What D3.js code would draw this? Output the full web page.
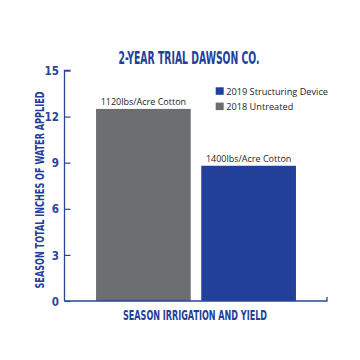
<!DOCTYPE html>
<html><head><meta charset="utf-8">
<script src="https://cdn.jsdelivr.net/npm/d3@7"></script>
<style>body{margin:0;background:#fff;}</style>
</head><body>
<svg id="c" width="360" height="360"></svg>
<script>
const categories = ["2018 Untreated", "2019 Structuring Device"];
const values = [12.5, 8.8];
const barLabels = ["1120lbs/Acre Cotton", "1400lbs/Acre Cotton"];
const legendItems = ["2019 Structuring Device", "2018 Untreated"];
const yTicks = [0, 3, 6, 9, 12, 15];
const title = "2-YEAR TRIAL DAWSON CO.";
const yTitle = "SEASON TOTAL INCHES OF WATER APPLIED";
const xTitle = "SEASON IRRIGATION AND YIELD";

const BLUE = "#22409a", GRAY = "#6d6e71", AXIS = "#2b4597";
const COND = "'Liberation Sans Narrow','DejaVu Sans Condensed',sans-serif";
const colors = {"2018 Untreated": GRAY, "2019 Structuring Device": BLUE};

const svg = d3.select("#c");
const x = d3.scaleBand().domain(categories).range([65, 327]).paddingInner(0.1).paddingOuter(0.295);
const y = d3.scaleLinear().domain([0, 15]).range([301, 70.5]);

// bars
svg.selectAll("rect.bar").data(categories).join("rect")
  .attr("x", d => x(d)).attr("width", x.bandwidth())
  .attr("y", (d,i) => y(values[i])).attr("height", (d,i) => y(0) - y(values[i]))
  .attr("fill", d => colors[d]);

// bar labels
svg.selectAll("text.bl").data(categories).join("text")
  .attr("x", d => x(d) + x.bandwidth()/2)
  .attr("y", (d,i) => y(values[i]) - 4)
  .attr("text-anchor", "middle")
  .attr("font-family", "'Open Sans',sans-serif").attr("font-size", 9)
  .attr("fill", "#231f20")
  .text((d,i) => barLabels[i]);

// y axis
const yAxis = d3.axisRight(y).tickValues(yTicks).tickSize(6).tickPadding(0);
const gy = svg.append("g").attr("transform", "translate(64.5,0)").call(yAxis);
gy.select(".domain").attr("stroke", AXIS).attr("stroke-width", 1.3).attr("d", `M6,${y(15)}H0V${y(0)}`);
gy.selectAll(".tick line").attr("stroke", AXIS).attr("stroke-width", 1.2);
gy.selectAll(".tick text").attr("x", -5.5).attr("dy", "0.36em").attr("text-anchor", "end")
  .attr("font-family", COND).attr("font-weight", "bold").attr("font-size", 11.5).attr("fill", AXIS);

// x axis line
const gx = svg.append("g").attr("transform", `translate(0,${y(0)})`)
  .call(d3.axisBottom(x).tickSize(0).tickFormat(""));
gx.select(".domain").attr("stroke", AXIS).attr("stroke-width", 1.3).attr("d", "M64.5,0H327V-4");

// title
svg.append("text").attr("x", 189).attr("y", 64).attr("text-anchor", "middle")
  .attr("font-family", COND).attr("font-weight", "bold").attr("font-size", 17.5)
  .attr("fill", BLUE).attr("textLength", 141).attr("lengthAdjust", "spacingAndGlyphs").text(title);

// y title
svg.append("text").attr("transform", "translate(44,190) rotate(-90)").attr("text-anchor", "middle")
  .attr("font-family", COND).attr("font-weight", "bold").attr("font-size", 12.5)
  .attr("fill", BLUE).attr("textLength", 197).attr("lengthAdjust", "spacingAndGlyphs").text(yTitle);

// x title
svg.append("text").attr("x", 195).attr("y", 319.5).attr("text-anchor", "middle")
  .attr("font-family", COND).attr("font-weight", "bold").attr("font-size", 14)
  .attr("fill", BLUE).attr("textLength", 144).attr("lengthAdjust", "spacingAndGlyphs").text(xTitle);

// legend
const lg = svg.selectAll("g.lg").data(legendItems).join("g")
  .attr("transform", (d,i) => `translate(215.7,${87.3 + i*15.3})`);
lg.append("rect").attr("width", 8).attr("height", 7.5).attr("fill", d => colors[d]);
lg.append("text").attr("x", 10.5).attr("y", 7.2)
  .attr("font-family", "'Open Sans',sans-serif").attr("font-size", 9.2).attr("fill", "#231f20").text(d => d);
</script>
</body></html>
